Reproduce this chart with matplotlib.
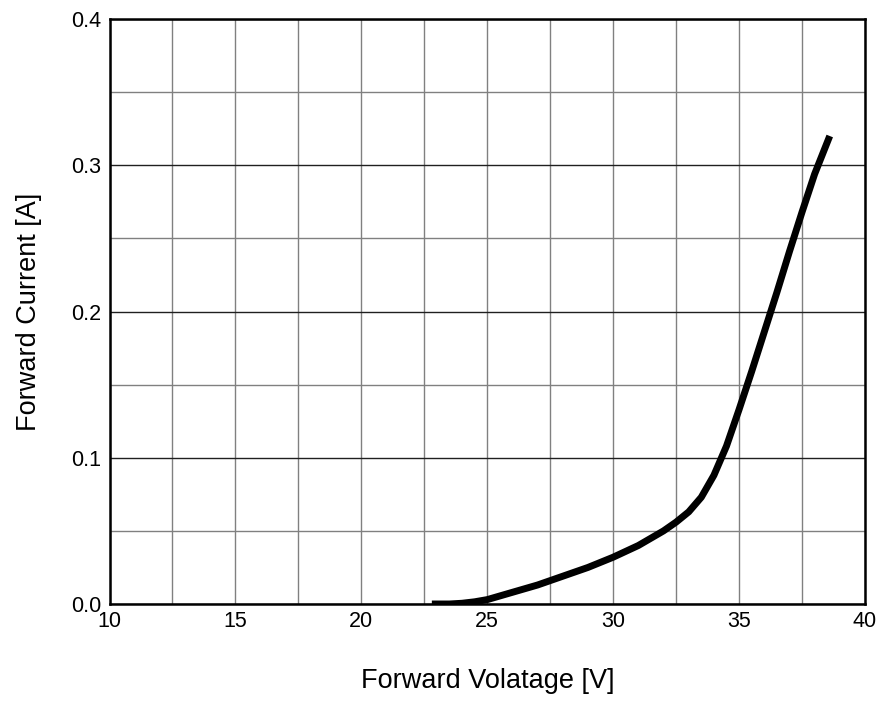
import numpy as np
import matplotlib.pyplot as plt
from matplotlib.ticker import MultipleLocator

# forward voltage vs forward current
voltage = [22.8, 23.5, 24.0, 24.5, 25.0, 26.0, 27.0, 28.0, 29.0, 30.0, 31.0, 32.0, 32.5, 33.0, 33.5, 34.0, 34.5, 35.0, 35.5, 36.0, 36.5, 37.0, 37.5, 38.0, 38.6]
current = [0.0, 0.0, 0.0005, 0.0015, 0.003, 0.008, 0.013, 0.019, 0.025, 0.032, 0.040, 0.050, 0.056, 0.063, 0.073, 0.088, 0.108, 0.133, 0.159, 0.186, 0.213, 0.241, 0.268, 0.294, 0.320]

x_ticks = [10, 15, 20, 25, 30, 35, 40]
y_ticks = [0.0, 0.1, 0.2, 0.3, 0.4]

plt.rcParams['font.family'] = ['Liberation Sans', 'DejaVu Sans']

fig = plt.figure(figsize=(8.83, 7.01), dpi=100)
ax = fig.add_axes([109.5/883, 1 - 604/701, (865 - 109.5)/883, (604 - 19)/701])

ax.plot(voltage, current, color='black', linewidth=5, solid_capstyle='butt',
        solid_joinstyle='round', zorder=3)

ax.set_xlim(10, 40)
ax.set_ylim(0, 0.4)
ax.set_xticks(x_ticks)
ax.set_yticks(y_ticks)
ax.set_yticklabels(['%.1f' % v for v in y_ticks])
ax.xaxis.set_minor_locator(MultipleLocator(2.5))
ax.yaxis.set_minor_locator(MultipleLocator(0.05))
ax.tick_params(which='both', length=0, labelsize=15.5)
ax.tick_params(axis='x', pad=5)
ax.tick_params(axis='y', pad=6)

ax.grid(True, which='both', axis='x', color='#808080', linewidth=1)
ax.grid(True, which='major', axis='y', color='#202020', linewidth=1)
ax.grid(True, which='minor', axis='y', color='#808080', linewidth=1)

for s in ax.spines.values():
    s.set_linewidth(1.8)

ax.set_xlabel('Forward Volatage [V]', fontsize=19.5, labelpad=26)
ax.set_ylabel('Forward Current [A]', fontsize=19.5, labelpad=21)

fig.savefig('out.png', dpi=100)
